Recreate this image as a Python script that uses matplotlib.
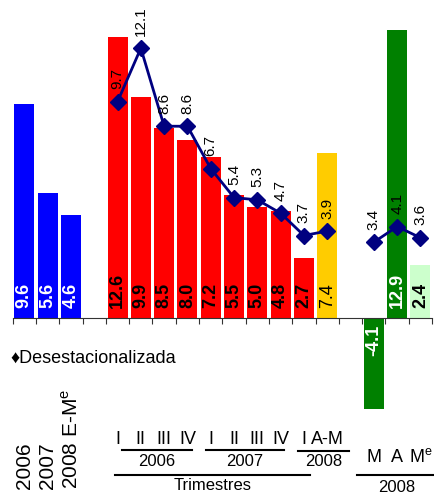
import numpy as np
import matplotlib
matplotlib.use("Agg")
import matplotlib.pyplot as plt
import matplotlib.transforms as mtransforms

plt.rcParams['font.family'] = ['Liberation Sans', 'DejaVu Sans']

# annual growth (blue), quarterly (red), jan-may (yellow), monthly (greens)
annual = [9.6, 5.6, 4.6]
annual_labels = ["2006", "2007", "2008 E-M$^{\\mathregular{e}}$"]
quarterly = [12.6, 9.9, 8.5, 8.0, 7.2, 5.5, 5.0, 4.8, 2.7]
ytd = [7.4]
monthly = [-4.1, 12.9, 2.4]
# seasonally adjusted series (line)
sa_quarterly = [9.7, 12.1, 8.6, 8.6, 6.7, 5.4, 5.3, 4.7, 3.7, 3.9]
sa_monthly = [3.4, 4.1, 3.6]

quarter_labels = ["I", "II", "III", "IV", "I", "II", "III", "IV", "I", "A-M"]
month_labels = ["M", "A", "M$^{\\mathregular{e}}$"]

x_annual = np.arange(3)
x_quarterly = np.arange(4, 13)
x_ytd = np.array([13])
x_monthly = np.arange(15, 18)
x_sa_q = np.arange(4, 14)

fig = plt.figure(figsize=(4.35, 4.96), dpi=100)
ax = fig.add_axes([0, 0, 1, 1])
ax.set_xlim(-1.045, 17.625)
ax.set_ylim(-7.98, 14.26)

w = 0.86
ax.bar(x_annual, annual, width=w, color="#0000ff", zorder=2)
ax.bar(x_quarterly, quarterly, width=w, color="#ff0000", zorder=2)
ax.bar(x_ytd, ytd, width=w, color="#ffcc00", zorder=2)
ax.bar(x_monthly, monthly, width=w, color=["#008000", "#008000", "#ccffcc"], zorder=2)

# value labels inside bars
def bar_label(x, v, color, weight="bold"):
    if v >= 0:
        ax.text(x, 0.45, f"{v:.1f}", rotation=90, ha="center", va="bottom",
                color=color, fontsize=13, fontweight=weight, zorder=4)
    else:
        ax.text(x, -0.3, f"{v:.1f}", rotation=90, ha="center", va="top",
                color=color, fontsize=13, fontweight=weight, zorder=4)

for x, v in zip(x_annual, annual):
    bar_label(x, v, "white")
for x, v in zip(x_quarterly, quarterly):
    bar_label(x, v, "black")
for x, v in zip(x_ytd, ytd):
    bar_label(x, v, "black", weight="normal")
for x, v, c in zip(x_monthly, monthly, ["white", "white", "black"]):
    bar_label(x, v, c)

# seasonally adjusted line
for xs, ys in [(x_sa_q, sa_quarterly), (x_monthly, sa_monthly)]:
    ax.plot(xs, ys, color="#000080", lw=2, marker="D", markersize=8, zorder=5)
    for x, v in zip(xs, ys):
        ax.annotate(f"{v:.1f}", (x, v), xytext=(0, 9), textcoords="offset points",
                    rotation=90, ha="center", va="bottom", fontsize=11, zorder=6)

# axis line with ticks at slot boundaries
for s in ["top", "right", "left"]:
    ax.spines[s].set_visible(False)
ax.spines["bottom"].set_position(("data", 0))
ax.spines["bottom"].set_bounds(-0.5, 17.5)
ax.spines["bottom"].set_color("#333333")
ax.set_xticks(np.arange(-0.5, 18, 1))
ax.set_xticklabels([])
ax.set_yticks([])
ax.tick_params(axis="x", direction="out", length=4.5, color="#333333")

ax.text(10 / 435, 1 - 358 / 496, "\u2666Desestacionalizada", transform=ax.transAxes,
        ha="left", va="center", fontsize=13)

# category labels below
def fy(py):
    return 1 - py / 496

tr = mtransforms.blended_transform_factory(ax.transData, ax.transAxes)

for x, lab in zip(x_annual, annual_labels):
    ax.text(x, fy(489), lab, rotation=90, ha="center", va="bottom", fontsize=15, transform=tr)

for x, lab in zip(x_sa_q, quarter_labels):
    ax.text(x, fy(439), lab, ha="center", va="center", fontsize=13, transform=tr)

for x, lab in zip(x_monthly, month_labels):
    ax.text(x, fy(457), lab, ha="center", va="center", fontsize=13, transform=tr)

for x0, x1, y, lab, ty in [(4.2, 7.2, 450, "2006", 461), (7.8, 11.15, 450, "2007", 461),
                           (11.75, 13.95, 451, "2008", 462)]:
    ax.plot([x0, x1], [fy(y), fy(y)], color="black", lw=1.5, transform=tr, clip_on=False)
    ax.text((x0 + x1) / 2, fy(ty), lab, ha="center", va="center", fontsize=12, transform=tr)

ax.plot([3.9, 12.27], [fy(475), fy(475)], color="black", lw=1.5, transform=tr, clip_on=False)
ax.text(8.1, fy(486), "Trimestres", ha="center", va="center", fontsize=12, transform=tr)
ax.plot([14.28, 17.7], [fy(475), fy(475)], color="black", lw=1.5, transform=tr, clip_on=False)
ax.text(16.0, fy(488), "2008", ha="center", va="center", fontsize=12, transform=tr)

fig.savefig("out.png", dpi=100)
